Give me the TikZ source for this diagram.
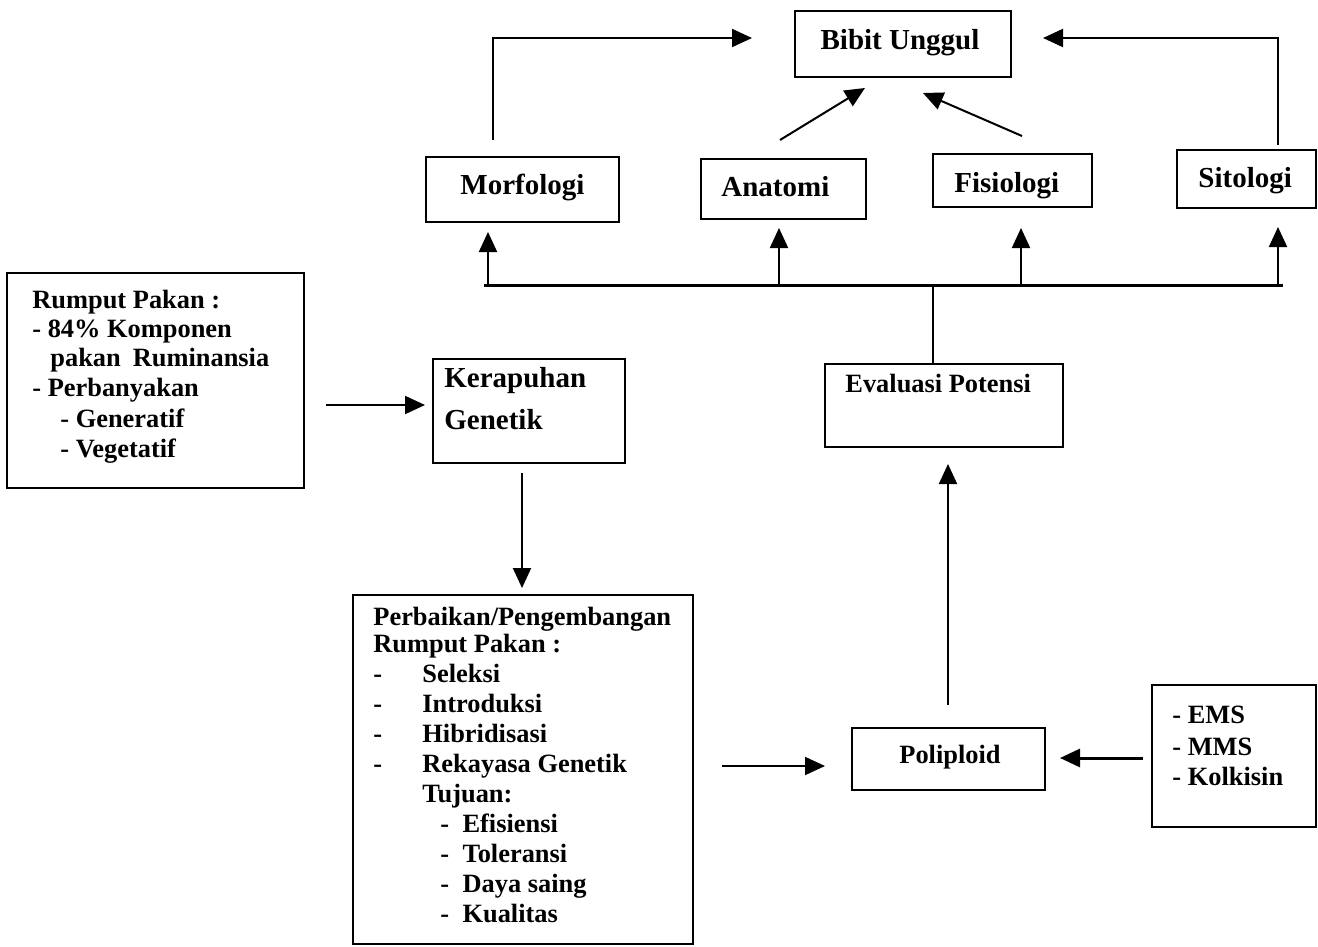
\documentclass[tikz,border=0pt]{standalone}
\usepackage{fontspec}
\setmainfont{Liberation Serif}
\usetikzlibrary{arrows.meta,fit}
\newcommand\myfbig{\fontsize{14.5}{17}\selectfont\bfseries}
\newcommand\myfmid{\fontsize{13.2}{15}\selectfont\bfseries}
\begin{document}
\begin{tikzpicture}[x=0.5pt,y=-0.5pt,
  box/.style={draw, line width=1pt, inner sep=0pt},
  arr/.style={line width=1pt, -{Triangle[length=10pt,width=9pt]}},
  ln/.style={line width=1pt},
  bar/.style={line width=1.5pt},
  lblbig/.style={anchor=base west, inner sep=0pt, font=\myfbig},
  lbl/.style={anchor=base west, inner sep=0pt, font=\myfmid}]
\useasboundingbox (0,0) rectangle (1318,947);

% boxes
\node[box, fit={(795,11)(1011,77)}] (bibit) {};
\node[box, fit={(426,157)(619,222)}] (morf) {};
\node[box, fit={(701,159)(866,219)}] (anat) {};
\node[box, fit={(933,154)(1092,207)}] (fisio) {};
\node[box, fit={(1177,150)(1316,208)}] (sito) {};
\node[box, fit={(7,273)(304,488)}] (rumput) {};
\node[box, fit={(433,359)(625,463)}] (kerap) {};
\node[box, fit={(825,364)(1063,447)}] (eval) {};
\node[box, fit={(353,595)(693,944)}] (perb) {};
\node[box, fit={(852,728)(1045,790)}] (poly) {};
\node[box, fit={(1152,685)(1316,827)}] (ems) {};

% labels
\node[lblbig, anchor=base] (tbibit) at (900,50) {Bibit Unggul};
\node[lblbig] (tmorf) at (460,195) {Morfologi};
\node[lblbig] (tanat) at (721,197) {Anatomi};
\node[lblbig] (tfisio) at (954,192) {Fisiologi};
\node[lblbig] (tsito) at (1198,188) {Sitologi};
\node[lblbig] (tk1) at (444,387) {Kerapuhan};
\node[lblbig] (tk2) at (444,429) {Genetik};
\node[lbl] (teval) at (845,392) {Evaluasi Potensi};
\node[lbl] (tpoly) at (899,763) {Poliploid};

\node[lbl] (r1) at (32,308) {Rumput Pakan :};
\node[lbl] (r2) at (32,337) {- 84\% Komponen};
\node[lbl] (r3) at (50,366) {pakan\hspace{6pt}Ruminansia};
\node[lbl] (r4) at (32,396) {- Perbanyakan};
\node[lbl] (r5) at (60,427) {- Generatif};
\node[lbl] (r6) at (60,457) {- Vegetatif};

\node[lbl] (p1) at (373,625) {Perbaikan/Pengembangan};
\node[lbl] (p2) at (373,652) {Rumput Pakan :};
\foreach \yy/\tt [count=\i] in {682/Seleksi,712/Introduksi,742/Hibridisasi,772/Rekayasa Genetik}{
  \node[lbl] (pd\i) at (373,\yy) {-};
  \node[lbl] (pi\i) at (422,\yy) {\tt};
}
\node[lbl] (p7) at (422,802) {Tujuan:};
\foreach \yy/\tt [count=\i] in {832/Efisiensi,862/Toleransi,892/Daya saing,922/Kualitas}{
  \node[lbl] (ps\i) at (440,\yy) {-\hspace{6.7pt}\tt};
}

\node[lbl] (e1) at (1172,723) {- EMS};
\node[lbl] (e2) at (1172,755) {- MMS};
\node[lbl] (e3) at (1172,785) {- Kolkisin};

% connector end points
\coordinate (mtop) at (493,140);
\coordinate (bl) at (752,38);
\coordinate (stop) at (1278,145);
\coordinate (br) at (1043,38);
\coordinate (an1) at (780,140);
\coordinate (an2) at (865,88);
\coordinate (fi1) at (1022,136);
\coordinate (fi2) at (923,93);
\coordinate (barL) at (484,285);
\coordinate (barR) at (1283,285);
\coordinate (u1a) at (488,284); \coordinate (u1b) at (488,232);
\coordinate (u2a) at (779,284); \coordinate (u2b) at (779,228);
\coordinate (u3a) at (1021,284); \coordinate (u3b) at (1021,228);
\coordinate (u4a) at (1278,284); \coordinate (u4b) at (1278,227);
\coordinate (ev1) at (933,285);
\coordinate (po1) at (948,705);
\coordinate (po2) at (948,464);
\coordinate (rk1) at (326,405);
\coordinate (rk2) at (425,405);
\coordinate (kp1) at (522,473);
\coordinate (kp2) at (522,588);
\coordinate (pp1) at (722,766);
\coordinate (pp2) at (825,766);
\coordinate (em1) at (1143,758);
\coordinate (em2) at (1060,758);

% connectors
\draw[arr] (mtop) |- (bl);
\draw[arr] (stop) |- (br);
\draw[arr] (an1) -- (an2);
\draw[arr] (fi1) -- (fi2);
\draw[bar] (barL) -- (barR);
\draw[arr] (u1a) -- (u1b);
\draw[arr] (u2a) -- (u2b);
\draw[arr] (u3a) -- (u3b);
\draw[arr] (u4a) -- (u4b);
\draw[ln] (ev1) -- (ev1 |- eval.north);
\draw[arr] (po1) -- (po2);
\draw[arr] (rk1) -- (rk2);
\draw[arr] (kp1) -- (kp2);
\draw[arr] (pp1) -- (pp2);
\draw[arr, line width=1.5pt] (em1) -- (em2);
\end{tikzpicture}
\end{document}
